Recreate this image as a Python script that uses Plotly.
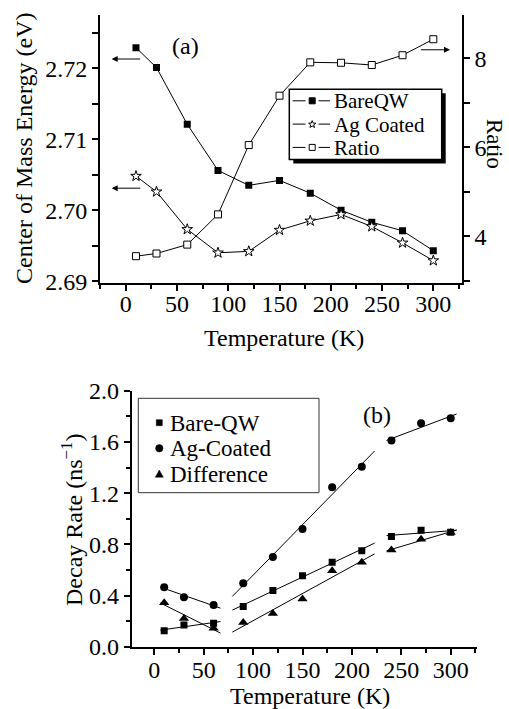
import numpy as np
import plotly.graph_objects as go

# ---------------- data ----------------
temps = [10, 30, 60, 90, 120, 150, 180, 210, 240, 270, 300]

energy_bare = [2.7229, 2.7201, 2.7121, 2.7056, 2.7035, 2.7042, 2.7024, 2.7000, 2.6983, 2.6971, 2.6943]
energy_ag = [2.7048, 2.7026, 2.6973, 2.6940, 2.6942, 2.6972, 2.6985, 2.6994, 2.6977, 2.6954, 2.6929]
ratio = [3.55, 3.61, 3.81, 4.49, 6.05, 7.16, 7.91, 7.90, 7.85, 8.07, 8.43]

decay_bare = [0.125, 0.17, 0.183, 0.315, 0.44, 0.555, 0.66, 0.75, 0.86, 0.91, 0.895]
decay_ag = [0.464, 0.386, 0.326, 0.495, 0.70, 0.92, 1.245, 1.406, 1.61, 1.745, 1.785]
decay_diff = [0.344, 0.22, 0.145, 0.19, 0.26, 0.373, 0.594, 0.66, 0.755, 0.84, 0.893]

# linear-fit segments (indices of points) and temperature extent of each fitted line
fit_groups = [[0, 1, 2], [3, 4, 5, 6, 7], [8, 9, 10]]
fit_extents = [[6, 67], [79, 223], [235, 306]]

energy_ticks = [2.69, 2.70, 2.71, 2.72]
ratio_ticks = [4, 6, 8]
decay_ticks = [0.0, 0.4, 0.8, 1.2, 1.6, 2.0]
temp_ticks = [0, 50, 100, 150, 200, 250, 300]

W, H = 509, 709
FONT = "Liberation Serif"


def px(x):
    return x / W


def py(y):
    return 1 - y / H


fig = go.Figure()

# ---------------- panel (a) ----------------
fig.add_trace(go.Scatter(x=temps, y=energy_bare, mode="lines+markers", name="BareQW",
                         line=dict(color="black", width=1),
                         marker=dict(symbol="square", size=7, color="black"),
                         xaxis="x", yaxis="y", showlegend=False))
fig.add_trace(go.Scatter(x=temps, y=energy_ag, mode="lines+markers", name="Ag Coated",
                         line=dict(color="black", width=1),
                         marker=dict(symbol="star", size=8, color="white",
                                     line=dict(color="black", width=1)),
                         xaxis="x", yaxis="y", showlegend=False))
fig.add_trace(go.Scatter(x=temps, y=ratio, mode="lines+markers", name="Ratio",
                         line=dict(color="black", width=1),
                         marker=dict(symbol="square", size=7, color="white",
                                     line=dict(color="black", width=1)),
                         xaxis="x", yaxis="y2", showlegend=False))

# ---------------- panel (b) ----------------
series_b = [("Bare-QW", decay_bare, "square", 7),
            ("Ag-Coated", decay_ag, "circle", 8),
            ("Difference", decay_diff, "triangle-up", 9)]
for name, vals, sym, sz in series_b:
    fig.add_trace(go.Scatter(x=temps, y=vals, mode="markers", name=name,
                             marker=dict(symbol=sym, size=sz, color="black"),
                             xaxis="x2", yaxis="y3", showlegend=False))
    for grp, ext in zip(fit_groups, fit_extents):
        gx = np.array([temps[i] for i in grp], dtype=float)
        gy = np.array([vals[i] for i in grp], dtype=float)
        k, b = np.polyfit(gx, gy, 1)
        ex = np.array(ext, dtype=float)
        fig.add_trace(go.Scatter(x=ex, y=k * ex + b, mode="lines",
                                 line=dict(color="black", width=1),
                                 xaxis="x2", yaxis="y3", showlegend=False,
                                 hoverinfo="skip"))

tick_font = dict(family=FONT, size=24, color="black")
common = dict(showgrid=False, zeroline=False, showline=True, linecolor="black",
              linewidth=2, ticks="outside", tickcolor="black", tickwidth=1.5,
              ticklen=6, tickfont=tick_font, automargin=False)

minor_t = [-25, 25, 75, 125, 175, 225, 275, 325]

fig.update_layout(
    width=W, height=H,
    margin=dict(l=0, r=0, t=0, b=0, autoexpand=False),
    paper_bgcolor="white", plot_bgcolor="white",
    font=dict(family=FONT, color="black"),
    xaxis=dict(domain=[px(100), px(461.7)], anchor="y", range=[-25.1, 327.7],
               tickvals=temp_ticks, ticklabelstandoff=-8,
               minor=dict(tickvals=minor_t, ticks="outside", ticklen=4,
                          tickwidth=1.5, tickcolor="black"),
               **common),
    xaxis3=dict(overlaying="x", side="top", anchor="y", range=[-25.1, 327.7],
                tickvals=[-25, 0, 25, 50, 75, 100, 125, 150, 175, 200, 225, 250, 275, 300, 325],
                showticklabels=False, showgrid=False, zeroline=False, automargin=False,
                showline=True, linecolor="black", linewidth=2,
                ticks="inside", ticklen=6, tickwidth=1.5, tickcolor="black"),
    yaxis=dict(domain=[py(283.3), py(15)], anchor="x", range=[2.6897, 2.7275],
               tickvals=energy_ticks, ticktext=[f"{v:.2f}" for v in energy_ticks],
               minor=dict(tickvals=[2.695, 2.705, 2.715, 2.725], ticks="outside",
                          ticklen=6, tickwidth=1.5, tickcolor="black"),
               **common),
    yaxis2=dict(overlaying="y", side="right", anchor="x", range=[2.94, 8.975],
                tickvals=ratio_ticks,
                minor=dict(tickvals=[3, 5, 7], ticks="outside", ticklen=6,
                           tickwidth=1.5, tickcolor="black"),
                **common),
    xaxis2=dict(domain=[px(131.7), px(476.7)], anchor="y3", range=[-22.9, 326.3],
                tickvals=temp_ticks, ticklabelstandoff=-6,
                minor=dict(tickvals=minor_t, ticks="outside", ticklen=4,
                           tickwidth=1.5, tickcolor="black"),
                **common),
    yaxis3=dict(domain=[py(646.7), py(390.7)], anchor="x2", range=[0, 2.0],
                tickvals=decay_ticks, ticktext=[f"{v:.1f}" for v in decay_ticks],
                minor=dict(tickvals=[0.2, 0.6, 1.0, 1.4, 1.8], ticks="outside",
                           ticklen=4, tickwidth=1.5, tickcolor="black"),
                **common),
)

ann = []


def text(x, y, s, size=24, angle=0, xanchor="center", yanchor="middle"):
    ann.append(dict(x=px(x), y=py(y), xref="paper", yref="paper", text=s,
                    showarrow=False, textangle=angle, xanchor=xanchor, borderpad=0,
                    yanchor=yanchor, font=dict(family=FONT, size=size, color="black")))


# axis titles
text(24, 149, "Center of Mass Energy (eV)", angle=-90)
text(495, 144, "Ratio", size=23, angle=90)
text(284, 338, "Temperature (K)")
text(72, 520, "Decay Rate (ns<sup>−1</sup>)", angle=-90)
text(310, 696, "Temperature (K)")
# panel labels
text(185, 46, "(a)")
text(377, 415, "(b)")

# arrows (pointing at the axis each curve belongs to)
arrows = [(15.6, -13.7, 2.7213), (15.6, -13.7, 2.7031), (286.4, 316.3, 2.7226)]
for tail, head, yv in arrows:
    ann.append(dict(x=head, y=yv, ax=tail, ay=yv, xref="x", yref="y", axref="x",
                    ayref="y", showarrow=True, arrowhead=2, arrowsize=1.2,
                    arrowwidth=1, arrowcolor="black", text=""))

shapes = []
# legend (a): shadow + box
shapes.append(dict(type="rect", xref="paper", yref="paper", x0=px(293.3), x1=px(445.7),
                   y0=py(163.5), y1=py(93.3), fillcolor="black", line=dict(width=0)))
shapes.append(dict(type="rect", xref="paper", yref="paper", x0=px(289.3), x1=px(441.7),
                   y0=py(159.5), y1=py(89.3), fillcolor="white",
                   line=dict(color="black", width=1.5)))
rows_a = [("BareQW", 100.8, "fsq"), ("Ag Coated", 124.1, "star"), ("Ratio", 147.4, "osq")]
for label, yr, kind in rows_a:
    for xa, xb in [(292.7, 305.5), (318.5, 330)]:
        shapes.append(dict(type="line", xref="paper", yref="paper", x0=px(xa), x1=px(xb),
                           y0=py(yr), y1=py(yr), line=dict(color="black", width=1)))
    cx = 312.2
    if kind == "fsq":
        shapes.append(dict(type="rect", xref="paper", yref="paper", x0=px(cx - 3), x1=px(cx + 3),
                           y0=py(yr + 3), y1=py(yr - 3), fillcolor="black",
                           line=dict(color="black", width=1)))
    elif kind == "osq":
        shapes.append(dict(type="rect", xref="paper", yref="paper", x0=px(cx - 3), x1=px(cx + 3),
                           y0=py(yr + 3), y1=py(yr - 3), fillcolor="white",
                           line=dict(color="black", width=1)))
    else:
        pts = []
        for i in range(10):
            r = 3.8 if i % 2 == 0 else 1.6
            a = -np.pi / 2 + i * np.pi / 5
            pts.append((px(cx + r * np.cos(a)), py(yr + 0.3 + r * np.sin(a))))
        path = "M " + " L ".join(f"{a:.5f},{b:.5f}" for a, b in pts) + " Z"
        shapes.append(dict(type="path", xref="paper", yref="paper", path=path,
                           fillcolor="white", line=dict(color="black", width=1)))
    text(333.3, yr + 0.5, label, size=21, xanchor="left")

# legend (b)
shapes.append(dict(type="rect", xref="paper", yref="paper", x0=px(138.3), x1=px(319),
                   y0=py(492.7), y1=py(398.3), fillcolor="rgba(0,0,0,0)",
                   line=dict(color="#333333", width=1)))
rows_b = [("Bare-QW", 422.7, "sq"), ("Ag-Coated", 448.3, "ci"), ("Difference", 473.9, "tri")]
for label, yr, kind in rows_b:
    cx = 159.3
    if kind == "sq":
        shapes.append(dict(type="rect", xref="paper", yref="paper", x0=px(cx - 3), x1=px(cx + 3),
                           y0=py(yr + 3), y1=py(yr - 3), fillcolor="black",
                           line=dict(color="black", width=0.5)))
    elif kind == "ci":
        shapes.append(dict(type="circle", xref="paper", yref="paper", x0=px(cx - 3.7), x1=px(cx + 3.7),
                           y0=py(yr + 3.7), y1=py(yr - 3.7), fillcolor="black",
                           line=dict(color="black", width=0.5)))
    else:
        path = (f"M {px(cx - 4):.5f},{py(yr + 3.3):.5f} L {px(cx + 4):.5f},{py(yr + 3.3):.5f} "
                f"L {px(cx):.5f},{py(yr - 3.8):.5f} Z")
        shapes.append(dict(type="path", xref="paper", yref="paper", path=path,
                           fillcolor="black", line=dict(color="black", width=0.5)))
    text(169.3, yr + 0.5, label, size=23, xanchor="left")

fig.update_layout(annotations=ann, shapes=shapes)
fig.write_html("out.html", config={"displayModeBar": False},
               post_script="document.body.style.margin='0';")
